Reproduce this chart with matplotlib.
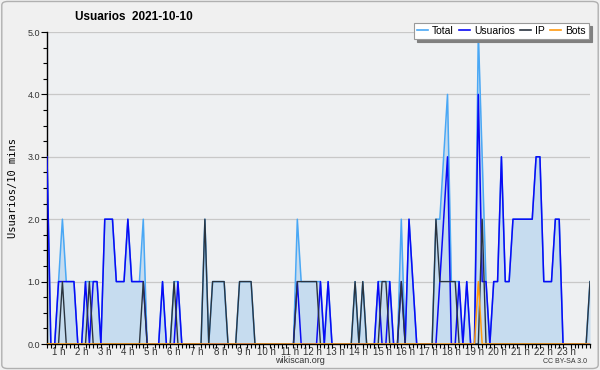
import numpy as np
import matplotlib
matplotlib.use("Agg")
import matplotlib.pyplot as plt
from matplotlib.patches import FancyBboxPatch
from matplotlib.lines import Line2D

# ---- data (10-minute slots) ----
N = 142
usuarios_pts = {0: 3, 3: 1, 4: 1, 5: 1, 6: 1, 7: 1, 10: 1, 12: 1, 13: 1,
                15: 2, 16: 2, 17: 2, 18: 1, 19: 1, 20: 1, 21: 2, 22: 1, 23: 1, 24: 1, 25: 1,
                30: 1, 34: 1, 65: 1, 71: 1, 73: 1, 86: 1, 89: 1, 92: 1, 94: 2, 95: 1,
                102: 1, 103: 2, 104: 3, 107: 1, 109: 1, 112: 4, 113: 1, 114: 1, 116: 1, 117: 1,
                118: 3, 119: 1, 120: 1, 121: 2, 122: 2, 123: 2, 124: 2, 125: 2, 126: 2,
                127: 3, 128: 3, 129: 1, 130: 1, 131: 1, 132: 2, 133: 2}
ip_pts = {4: 1, 11: 1, 25: 1, 33: 1, 41: 2, 43: 1, 44: 1, 45: 1, 46: 1,
          50: 1, 51: 1, 52: 1, 53: 1, 65: 1, 66: 1, 67: 1, 68: 1, 69: 1, 70: 1,
          80: 1, 82: 1, 87: 1, 88: 1, 92: 1, 101: 2, 102: 1, 103: 1, 104: 1, 105: 1, 106: 1,
          113: 2, 141: 1}
bots_pts = {112: 1}

usuarios = np.array([usuarios_pts.get(i, 0) for i in range(N)], dtype=float)
ip = np.array([ip_pts.get(i, 0) for i in range(N)], dtype=float)
bots = np.array([bots_pts.get(i, 0) for i in range(N)], dtype=float)
total = usuarios + ip + bots

hour_labels = [f"{h} h" for h in range(1, 24)]
hour_pos = [6 * h - 3 for h in range(1, 24)]

title = "Usuarios  2021-10-10"
ylabel = "Usuarios/10 mins"

plt.rcParams["font.family"] = ["Liberation Sans", "DejaVu Sans"]

# ---- figure ----
fig = plt.figure(figsize=(6, 3.7), dpi=100, facecolor="#f0f0f0")
fig.patches.append(FancyBboxPatch((0.003, 0.004), 0.994, 0.992, boxstyle="round,pad=0,rounding_size=0.01",
                                  transform=fig.transFigure, facecolor="#f0f0f0",
                                  edgecolor="#b0b0b0", linewidth=1.0, zorder=-10))
ax = fig.add_axes([47 / 600, 26 / 370, 543 / 600, 312 / 370])
ax.set_facecolor("#eef0f2")

x = np.arange(N)
ax.fill_between(x, total, 0, color="#c6dcef", linewidth=0, zorder=1)
ax.plot(x, total, color="#4aa8f5", lw=1.1, zorder=2)
ax.plot(x, usuarios, color="#0a0af5", lw=1.1, zorder=3)
ax.plot(x, ip, color="#2a3440", lw=1.0, zorder=4)
ax.plot(x, bots, color="#ff9a10", lw=1.1, zorder=5)

ax.set_xlim(0, N - 1)
ax.set_ylim(0, 5)
ax.set_yticks(np.arange(0, 5.01, 1))
ax.set_yticklabels([f"{v:.1f}" for v in range(6)], fontsize=6.5, color="#333333")
ax.set_yticks(np.arange(0, 5.01, 0.25), minor=True)
ax.set_xticks(hour_pos)
ax.set_xticklabels(hour_labels, fontsize=7, color="#333333")
ax.set_xticks(np.arange(0, N, 1), minor=True)
ax.tick_params(axis="x", which="major", length=0, pad=2)
ax.tick_params(axis="x", which="minor", length=3, width=0.8, direction="out")
ax.tick_params(axis="y", which="major", length=4, width=0.8, pad=1)
ax.tick_params(axis="y", which="minor", length=3, width=0.8)
ax.grid(axis="y", which="major", color="#c8c8c8", lw=0.9, zorder=0)
ax.set_axisbelow(True)
for s in ["top", "right"]:
    ax.spines[s].set_visible(False)
ax.spines["left"].set_linewidth(1.0)
ax.spines["bottom"].set_linewidth(1.0)

ax.set_ylabel(ylabel, fontsize=7.5, labelpad=7, family=["DejaVu Sans Mono", "DejaVu Sans"])
fig.text(0.125, 0.955, title, fontsize=8.5, fontweight="bold", ha="left", va="center")

handles = [Line2D([], [], color=c, lw=1.2) for c in ["#4aa8f5", "#0a0af5", "#2a3440", "#ff9a10"]]
leg = fig.legend(handles, ["Total", "Usuarios", "IP", "Bots"], ncol=4, fontsize=7.5,
                 loc="upper right", bbox_to_anchor=(0.99, 0.952), handlelength=1.0,
                 handletextpad=0.4, columnspacing=0.55, borderpad=0.3, frameon=True,
                 fancybox=False, shadow={"color": "#808080", "alpha": 1.0})
leg.get_frame().set_edgecolor("#999999")
leg.get_frame().set_linewidth(0.8)

fig.text(0.5, 0.025, "wikiscan.org", fontsize=6.5, ha="center", va="center", color="#333333")
fig.text(0.978, 0.022, "CC BY-SA 3.0", fontsize=5, ha="right", va="center", color="#333333")

fig.savefig("out.png", dpi=100, facecolor=fig.get_facecolor())
